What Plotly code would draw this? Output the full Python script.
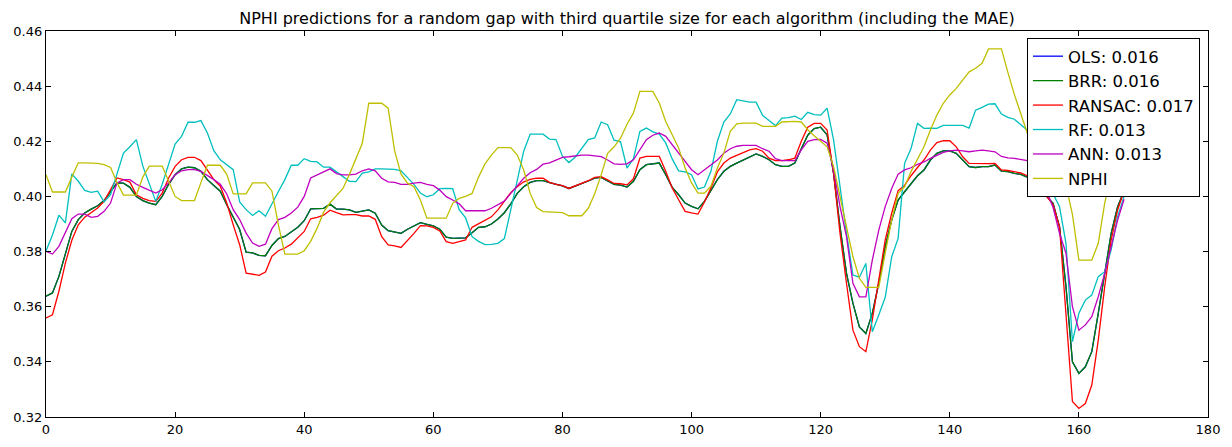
import plotly.graph_objects as go

## values, one entry per sample of the gap (x = 0 .. 167)
# OLS and BRR predictions lie on top of each other, BRR is drawn over OLS
OLS = [0.3638, 0.365, 0.371, 0.3789, 0.3873, 0.3916, 0.394, 0.3954, 0.3966, 0.3985,
       0.4019, 0.4049, 0.4048, 0.4033, 0.400, 0.3985, 0.3976, 0.397, 0.400, 0.4044,
       0.4079, 0.410, 0.4106, 0.4104, 0.4091, 0.4061, 0.404, 0.4019, 0.397, 0.3922,
       0.388, 0.3798, 0.3795, 0.3786, 0.3785, 0.3822, 0.3847, 0.3855, 0.3871, 0.3888,
       0.3912, 0.3955, 0.3956, 0.3957, 0.3972, 0.3954, 0.3954, 0.3951, 0.3942, 0.3947,
       0.3951, 0.3939, 0.3896, 0.3876, 0.3872, 0.3866, 0.3881, 0.3893, 0.3905, 0.3899,
       0.3893, 0.3881, 0.3852, 0.3848, 0.3848, 0.385, 0.3868, 0.3888, 0.389, 0.39,
       0.3918, 0.3941, 0.3973, 0.4011, 0.4035, 0.4051, 0.4057, 0.4057, 0.405, 0.4044,
       0.4038, 0.4029, 0.4038, 0.4045, 0.4056, 0.4066, 0.4069, 0.4056, 0.4044, 0.4041,
       0.4034, 0.4055, 0.4097, 0.4115, 0.4117, 0.4121, 0.4079, 0.4033, 0.4006, 0.3976,
       0.3964, 0.3955, 0.3982, 0.4019, 0.4061, 0.4091, 0.4109, 0.4121, 0.4133, 0.4145,
       0.4154, 0.4145, 0.4133, 0.4115, 0.4109, 0.4109, 0.4121, 0.4173, 0.4222, 0.4246,
       0.4251, 0.4223, 0.4084, 0.389, 0.3721, 0.3612, 0.3527, 0.3503, 0.3576, 0.3685,
       0.3818, 0.3914, 0.3987, 0.4017, 0.4045, 0.4075, 0.4096, 0.4132, 0.4156, 0.4165,
       0.4165, 0.4156, 0.4132, 0.4108, 0.4105, 0.4108, 0.4108, 0.4114, 0.4092, 0.409,
       0.4084, 0.408, 0.407, 0.405, 0.403, 0.400, 0.3975, 0.389, 0.3673, 0.340,
       0.3358, 0.3382, 0.3437, 0.3576, 0.3721, 0.3866, 0.3963, 0.402]

BRR = [0.3638, 0.365, 0.371, 0.3789, 0.3873, 0.3916, 0.394, 0.3954, 0.3966, 0.3985,
       0.4019, 0.4049, 0.4048, 0.4033, 0.400, 0.3985, 0.3976, 0.397, 0.400, 0.4044,
       0.4079, 0.410, 0.4106, 0.4104, 0.4091, 0.4061, 0.404, 0.4019, 0.397, 0.3922,
       0.388, 0.3798, 0.3795, 0.3786, 0.3785, 0.3822, 0.3847, 0.3855, 0.3871, 0.3888,
       0.3912, 0.3955, 0.3956, 0.3957, 0.3972, 0.3954, 0.3954, 0.3951, 0.3942, 0.3947,
       0.3951, 0.3939, 0.3896, 0.3876, 0.3872, 0.3866, 0.3881, 0.3893, 0.3905, 0.3899,
       0.3893, 0.3881, 0.3852, 0.3848, 0.3848, 0.385, 0.3868, 0.3888, 0.389, 0.39,
       0.3918, 0.3941, 0.3973, 0.4011, 0.4035, 0.4051, 0.4057, 0.4057, 0.405, 0.4044,
       0.4038, 0.4029, 0.4038, 0.4045, 0.4056, 0.4066, 0.4069, 0.4056, 0.4044, 0.4041,
       0.4034, 0.4055, 0.4097, 0.4115, 0.4117, 0.4121, 0.4079, 0.4033, 0.4006, 0.3976,
       0.3964, 0.3955, 0.3982, 0.4019, 0.4061, 0.4091, 0.4109, 0.4121, 0.4133, 0.4145,
       0.4154, 0.4145, 0.4133, 0.4115, 0.4109, 0.4109, 0.4121, 0.4173, 0.4222, 0.4246,
       0.4251, 0.4223, 0.4084, 0.389, 0.3721, 0.3612, 0.3527, 0.3503, 0.3576, 0.3685,
       0.3818, 0.3914, 0.3987, 0.4017, 0.4045, 0.4075, 0.4096, 0.4132, 0.4156, 0.4165,
       0.4165, 0.4156, 0.4132, 0.4108, 0.4105, 0.4108, 0.4108, 0.4114, 0.4092, 0.409,
       0.4084, 0.408, 0.407, 0.405, 0.403, 0.400, 0.3975, 0.389, 0.3673, 0.340,
       0.3358, 0.3382, 0.3437, 0.3576, 0.3721, 0.3866, 0.3963, 0.402]

RANSAC = [0.3559, 0.3571, 0.3656, 0.3758, 0.3841, 0.3897, 0.3925, 0.3943, 0.3958, 0.3982,
          0.4024, 0.4067, 0.4061, 0.4052, 0.4006, 0.3993, 0.3985, 0.3982, 0.4012, 0.4067,
          0.4109, 0.4133, 0.4142, 0.4142, 0.413, 0.4093, 0.4061, 0.4037, 0.3976, 0.3897,
          0.3825, 0.3722, 0.3719, 0.3714, 0.3726, 0.3783, 0.3803, 0.3813, 0.3827, 0.3849,
          0.3873, 0.3919, 0.3924, 0.3932, 0.395, 0.3941, 0.3933, 0.3934, 0.3934, 0.3929,
          0.3929, 0.3917, 0.3854, 0.3824, 0.3821, 0.3815, 0.3839, 0.3866, 0.3894, 0.3893,
          0.3888, 0.3875, 0.3836, 0.383, 0.3836, 0.3842, 0.3888, 0.39, 0.3912, 0.3926,
          0.3951, 0.3981, 0.4014, 0.4035, 0.4053, 0.4062, 0.4066, 0.4066, 0.4051, 0.4044,
          0.4039, 0.4029, 0.4038, 0.4047, 0.4057, 0.4069, 0.4072, 0.406, 0.4047, 0.4046,
          0.4042, 0.4064, 0.4139, 0.4145, 0.4145, 0.4145, 0.4091, 0.4031, 0.3988, 0.3946,
          0.394, 0.3936, 0.398, 0.4031, 0.4089, 0.4121, 0.4139, 0.4149, 0.4161, 0.4169,
          0.4173, 0.4164, 0.4139, 0.413, 0.413, 0.4133, 0.4139, 0.42, 0.4251, 0.4265,
          0.4265, 0.4241, 0.4084, 0.3866, 0.3685, 0.3515, 0.3455, 0.3437, 0.3552, 0.3697,
          0.3842, 0.3939, 0.4021, 0.404, 0.4075, 0.4105, 0.4132, 0.4168, 0.4195, 0.4202,
          0.4202, 0.418, 0.4144, 0.412, 0.4119, 0.412, 0.4119, 0.412, 0.4096, 0.4094,
          0.409, 0.4085, 0.4075, 0.4055, 0.403, 0.400, 0.397, 0.389, 0.3576, 0.3256,
          0.3231, 0.3249, 0.3316, 0.3479, 0.3673, 0.3842, 0.3951, 0.402]

RF = [0.3802, 0.386, 0.3932, 0.3904, 0.4082, 0.4055, 0.4022, 0.4015, 0.4019, 0.398,
      0.4006, 0.408, 0.4157, 0.418, 0.4206, 0.411, 0.4045, 0.3982, 0.4044, 0.4115,
      0.419, 0.4218, 0.4269, 0.4269, 0.4275, 0.423, 0.4166, 0.4133, 0.4115, 0.4097,
      0.398, 0.3952, 0.3931, 0.3948, 0.3928, 0.3976, 0.4018, 0.4061, 0.4113, 0.4113,
      0.4137, 0.4127, 0.4125, 0.4106, 0.4106, 0.4089, 0.4073, 0.4055, 0.4054, 0.4085,
      0.4089, 0.410, 0.410, 0.4099, 0.4098, 0.4093, 0.4067, 0.4044, 0.4012, 0.3999,
      0.4006, 0.4028, 0.4029, 0.4028, 0.3952, 0.3922, 0.3854, 0.3837, 0.3825, 0.3826,
      0.383, 0.3847, 0.3952, 0.4055, 0.4164, 0.4226, 0.4226, 0.4226, 0.4208, 0.4206,
      0.4146, 0.4123, 0.4143, 0.4176, 0.4206, 0.4212, 0.427, 0.426, 0.4204, 0.4198,
      0.4103, 0.4137, 0.4236, 0.4248, 0.4234, 0.4226, 0.4194, 0.4136, 0.4093, 0.4089,
      0.4079, 0.4027, 0.4034, 0.4091, 0.420, 0.427, 0.4299, 0.4351, 0.4347, 0.4342,
      0.4342, 0.4294, 0.4275, 0.4257, 0.4284, 0.4286, 0.4291, 0.4279, 0.4305, 0.4297,
      0.4295, 0.432, 0.4205, 0.4035, 0.3866, 0.3715, 0.3707, 0.3757, 0.3509, 0.357,
      0.3634, 0.3781, 0.3848, 0.412, 0.4174, 0.4265, 0.4247, 0.4248, 0.4247, 0.4258,
      0.4258, 0.4258, 0.4258, 0.4248, 0.4313, 0.4323, 0.4335, 0.4336, 0.4299, 0.4287,
      0.428, 0.426, 0.424, 0.420, 0.415, 0.408, 0.401, 0.3963, 0.383, 0.3473,
      0.3576, 0.3624, 0.3642, 0.3709, 0.3727, 0.3806, 0.3927, 0.400]

ANN = [0.3801, 0.3791, 0.3819, 0.3871, 0.3919, 0.3936, 0.3936, 0.3924, 0.3928, 0.3946,
       0.3976, 0.4049, 0.4061, 0.4061, 0.4044, 0.4033, 0.4021, 0.4012, 0.4024, 0.4049,
       0.4079, 0.4093, 0.4097, 0.4097, 0.4091, 0.4077, 0.4061, 0.4044, 0.4009, 0.3952,
       0.3916, 0.3867, 0.3831, 0.3819, 0.3827, 0.3883, 0.3916, 0.3924, 0.394, 0.3961,
       0.400, 0.4067, 0.4079, 0.4089, 0.410, 0.4083, 0.4078, 0.4078, 0.4081, 0.4093,
       0.410, 0.4093, 0.4066, 0.4053, 0.4051, 0.4044, 0.4044, 0.4048, 0.4051, 0.4044,
       0.4039, 0.4023, 0.3999, 0.3987, 0.3973, 0.3948, 0.3948, 0.3948, 0.3948, 0.3957,
       0.3969, 0.3983, 0.4011, 0.4038, 0.4066, 0.4086, 0.4098, 0.4117, 0.4122, 0.4132,
       0.4142, 0.4144, 0.4148, 0.415, 0.415, 0.4148, 0.4144, 0.4132, 0.4118, 0.4116,
       0.4118, 0.4133, 0.4169, 0.4206, 0.4222, 0.423, 0.4218, 0.4188, 0.4157, 0.4127,
       0.4097, 0.4079, 0.4097, 0.4115, 0.4132, 0.4157, 0.4173, 0.4182, 0.4185, 0.4185,
       0.4185, 0.4173, 0.4164, 0.4137, 0.413, 0.413, 0.413, 0.4169, 0.420, 0.4206,
       0.4207, 0.4193, 0.4096, 0.3963, 0.3854, 0.3685, 0.3636, 0.3636, 0.3769, 0.3878,
       0.3963, 0.4029, 0.4081, 0.4096, 0.4104, 0.4116, 0.4125, 0.4138, 0.415, 0.416,
       0.4165, 0.4168, 0.4165, 0.4162, 0.4165, 0.4168, 0.4165, 0.4162, 0.4145, 0.414,
       0.4138, 0.4135, 0.413, 0.411, 0.407, 0.402, 0.396, 0.3866, 0.3794, 0.360,
       0.3515, 0.3534, 0.3564, 0.3636, 0.3721, 0.3818, 0.3914, 0.399]

NPHI = [0.4079, 0.4016, 0.4016, 0.4016, 0.407, 0.4122, 0.4122, 0.4122, 0.412, 0.4115,
        0.4105, 0.405, 0.4005, 0.4005, 0.4005, 0.407, 0.411, 0.411, 0.411, 0.4055,
        0.400, 0.3985, 0.3985, 0.3985, 0.405, 0.4113, 0.4113, 0.4113, 0.408, 0.4009,
        0.4009, 0.4009, 0.4049, 0.4049, 0.4049, 0.4019, 0.3897, 0.3791, 0.3791, 0.3791,
        0.3803, 0.3837, 0.3885, 0.3943, 0.3977, 0.4005, 0.4029, 0.408, 0.414, 0.4193,
        0.4338, 0.4338, 0.4338, 0.432, 0.4166, 0.4081, 0.4048, 0.4035, 0.3987, 0.3921,
        0.3921, 0.3921, 0.3921, 0.3975, 0.3993, 0.400, 0.4011, 0.407, 0.4118, 0.415,
        0.4177, 0.4177, 0.4177, 0.415, 0.4096, 0.4011, 0.396, 0.3945, 0.3943, 0.3943,
        0.3941, 0.393, 0.393, 0.393, 0.3957, 0.401, 0.4078, 0.4156, 0.418, 0.4211,
        0.4262, 0.4303, 0.4381, 0.4381, 0.4381, 0.4339, 0.4272, 0.4224, 0.4176, 0.4103,
        0.4049, 0.4012, 0.4012, 0.4037, 0.4103, 0.4157, 0.4236, 0.4263, 0.4266, 0.4266,
        0.4266, 0.4254, 0.4254, 0.4254, 0.427, 0.4272, 0.4272, 0.427, 0.4242, 0.422,
        0.4199, 0.418, 0.4108, 0.3999, 0.389, 0.3781, 0.3703, 0.367, 0.367, 0.367,
        0.3794, 0.3914, 0.4011, 0.4035, 0.409, 0.4135, 0.418, 0.4241, 0.4295, 0.4338,
        0.4368, 0.4392, 0.4422, 0.4452, 0.4465, 0.4483, 0.4535, 0.4535, 0.4535, 0.445,
        0.437, 0.430, 0.423, 0.418, 0.414, 0.410, 0.407, 0.405, 0.404, 0.3935,
        0.3769, 0.3769, 0.3769, 0.383, 0.3976, 0.408, 0.413, 0.416]

# legend labels with the mean absolute error of every algorithm
SERIES_NAMES = ['OLS: 0.016', 'BRR: 0.016', 'RANSAC: 0.017', 'RF: 0.013', 'ANN: 0.013', 'NPHI']

X_TICKS = [0, 20, 40, 60, 80, 100, 120, 140, 160, 180]
Y_TICKS = [0.32, 0.34, 0.36, 0.38, 0.40, 0.42, 0.44, 0.46]
Y_TICK_LABELS = ['0.32', '0.34', '0.36', '0.38', '0.40', '0.42', '0.44', '0.46']

TITLE = 'NPHI predictions for a random gap with third quartile size for each algorithm (including the MAE)'

# old matplotlib default colour cycle b, g, r, c, m, y
line_colours = ['#0000ff', '#008000', '#ff0000', '#00bfbf', '#bf00bf', '#bfbf00']

FONT = 'DejaVu Sans, Liberation Sans, sans-serif'


def create_plot():
    fig = go.Figure()

    x = list(range(len(NPHI)))
    for name, values, colour in zip(SERIES_NAMES, [OLS, BRR, RANSAC, RF, ANN, NPHI], line_colours):
        fig.add_trace(go.Scatter(
            x=x,
            y=values,
            mode='lines',
            name=name,
            # one legend group per trace so the group gap spreads the legend rows a bit
            legendgroup=name,
            line=dict(color=colour, width=1.3),
        ))

    # axes box with inward ticks on all four sides, margins kept fixed (no automargin)
    axis_style = dict(
        showline=True, linecolor='black', linewidth=1.2, mirror='ticks',
        ticks='inside', ticklen=5, tickcolor='black', tickwidth=1,
        showgrid=False, zeroline=False, automargin=False,
        tickfont=dict(family=FONT, size=13, color='black'),
    )
    fig.update_xaxes(range=[0, 180], tickvals=X_TICKS, **axis_style)
    fig.update_yaxes(range=[0.32, 0.46], tickvals=Y_TICKS, ticktext=Y_TICK_LABELS, **axis_style)

    # the page body adds 8px around the figure, so the figure is 16px smaller than the window
    fig.update_layout(
        width=1216,
        height=431,
        margin=dict(l=38, r=16, t=23, b=22, autoexpand=False),
        paper_bgcolor='white',
        plot_bgcolor='white',
        font=dict(family=FONT, color='black'),
        title=dict(text=TITLE, x=0.5, xref='paper', y=0.977, yref='container', yanchor='middle',
                   font=dict(family=FONT, size=16, color='black')),
        showlegend=True,
        legend=dict(
            x=0.9931, y=0.982, xanchor='right', yanchor='top',
            bgcolor='white', bordercolor='black', borderwidth=1,
            font=dict(family=FONT, size=16.5, color='black'),
            traceorder='normal', tracegroupgap=5, itemwidth=30,
        ),
    )
    return fig


fig = create_plot()
fig.write_html("out.html")
